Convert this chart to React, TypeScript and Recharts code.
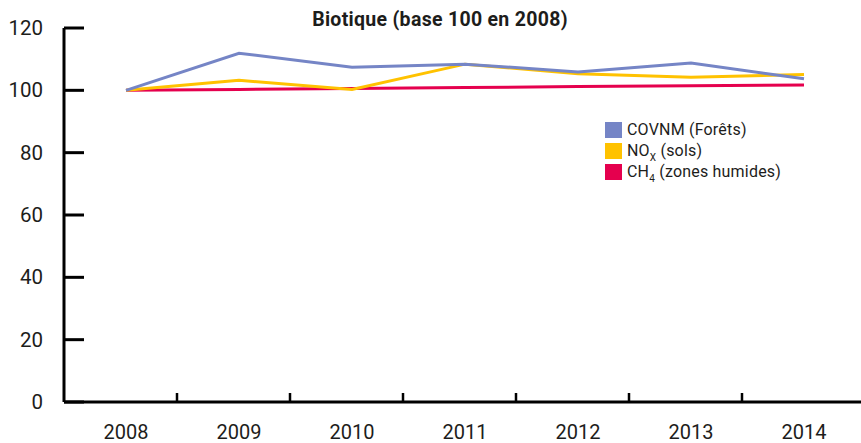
import { Legend, Line, LineChart, XAxis, YAxis } from "recharts";

const YEARS = ["2008", "2009", "2010", "2011", "2012", "2013", "2014"];
const COVNM = [100, 111.9, 107.4, 108.4, 105.9, 108.8, 103.7];
const NOX = [100, 103.2, 100.3, 108.4, 105.3, 104.2, 105.1];
const CH4 = [100, 100.3, 100.6, 100.9, 101.2, 101.5, 101.7];
const Y_TICKS = [0, 20, 40, 60, 80, 100, 120];

const data = YEARS.map((year, i) => ({
  year,
  covnm: COVNM[i],
  nox: NOX[i],
  ch4: CH4[i],
}));

const FONT = "Roboto, 'DejaVu Sans', sans-serif";
const INK = "#1d1d1b";

const SERIES = [
  { key: "covnm", color: "#7585c6", label: <>COVNM (Forêts)</> },
  {
    key: "nox",
    color: "#ffc200",
    label: (
      <>
        NO<span style={{ fontSize: 10, position: "relative", top: 5 }}>X</span> (sols)
      </>
    ),
  },
  {
    key: "ch4",
    color: "#e5004e",
    label: (
      <>
        CH<span style={{ fontSize: 10, position: "relative", top: 5 }}>4</span> (zones humides)
      </>
    ),
  },
];

function YTick({ x, y, payload }: any) {
  return (
    <g>
      <line x1={x} x2={x + 20} y1={y} y2={y} stroke="#000" strokeWidth={3} />
      <text x={x - 21} y={y} dy={7} textAnchor="end" fontSize={20.5} fill={INK} fontFamily={FONT}>
        {payload.value}
      </text>
    </g>
  );
}

function XTick({ x, y, payload, index, visibleTicksCount }: any) {
  return (
    <g>
      {index < visibleTicksCount - 1 && (
        <line x1={x + 51} x2={x + 51} y1={y} y2={y - 9} stroke="#000" strokeWidth={2.5} />
      )}
      <text x={x} y={y} dy={37} textAnchor="middle" fontSize={20} fill={INK} fontFamily={FONT}>
        {payload.value}
      </text>
    </g>
  );
}

function LegendBox() {
  return (
    <div style={{ fontFamily: FONT, fontSize: 16, color: INK, letterSpacing: 0.2 }}>
      {SERIES.map((s) => (
        <div key={s.key} style={{ display: "flex", alignItems: "center", height: 21, whiteSpace: "nowrap" }}>
          <span style={{ width: 17, height: 16, background: s.color, marginRight: 5, display: "inline-block" }} />
          <span>{s.label}</span>
        </div>
      ))}
    </div>
  );
}

export default function App() {
  return (
    <div style={{ position: "absolute", left: 0, top: 0, width: 861, height: 443, background: "#fff" }}>
      <div
        style={{
          position: "absolute",
          left: 0,
          width: 880,
          top: 8,
          textAlign: "center",
          fontFamily: FONT,
          fontWeight: 700,
          fontSize: 19.5,
          letterSpacing: 0.3,
          color: INK,
        }}
      >
        Biotique (base 100 en 2008)
      </div>
      <LineChart width={861} height={443} data={data} margin={{ top: 28, right: 0, bottom: 0, left: 0 }}>
        <YAxis
          domain={[0, 120]}
          ticks={Y_TICKS}
          width={64}
          tickSize={0}
          tickMargin={0}
          tickLine={false}
          axisLine={{ stroke: "#000", strokeWidth: 3 }}
          tick={<YTick />}
          interval={0}
        />
        <XAxis
          dataKey="year"
          height={41}
          padding={{ left: 62, right: 57 }}
          tickSize={0}
          tickMargin={0}
          tickLine={false}
          axisLine={{ stroke: "#000", strokeWidth: 3 }}
          tick={<XTick />}
          interval={0}
        />
        <Legend
          layout="vertical"
          align="center"
          verticalAlign="middle"
          content={<LegendBox />}
          wrapperStyle={{ position: "absolute", left: 605, top: 119, width: 220 }}
        />
        <Line dataKey="ch4" stroke="#e5004e" strokeWidth={3} dot={false} isAnimationActive={false} />
        <Line dataKey="nox" stroke="#ffc200" strokeWidth={3} dot={false} isAnimationActive={false} />
        <Line dataKey="covnm" stroke="#7585c6" strokeWidth={3} dot={false} isAnimationActive={false} />
      </LineChart>
    </div>
  );
}
